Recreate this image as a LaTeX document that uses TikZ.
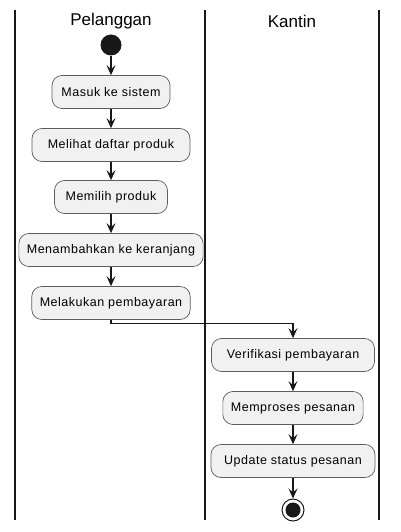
\documentclass[tikz,border=0pt]{standalone}
\usepackage{fontspec}
\setmainfont{Liberation Sans}
\newfontfamily\actfont[LetterSpace=4]{Liberation Sans}
\usepackage{tikz}
\usetikzlibrary{arrows.meta}
\definecolor{boxfill}{HTML}{F1F1F1}
\definecolor{boxline}{HTML}{181818}
\tikzset{
	act/.style={draw=boxline!70, fill=boxfill, rounded corners=10pt, minimum height=33pt, inner xsep=8pt, font=\actfont\fontsize{12.5}{14}\selectfont, line width=0.7pt},
	lane/.style={line width=1.6pt, boxline},
	flow/.style={-{Stealth[length=10pt,width=9pt,inset=4pt]}, line width=1.1pt, boxline}
}

\begin{document}
\begin{tikzpicture}[x=1pt,y=-1pt]
	\useasboundingbox (0,0) rectangle (400,532);
	%%%lanes
	\draw[lane] (15,10) -- (15,520);
	\draw[lane] (205,10) -- (205,520);
	\draw[lane] (379,10) -- (379,520);
	\node at (111,21) (Tpel){\fontsize{17}{19}\selectfont Pelanggan};
	\node at (292,21) (Tkan){\fontsize{17}{19}\selectfont Kantin};
	%%%nodes
	%Pelanggan
	\node[circle, fill=boxline, minimum size=21pt, inner sep=0pt] at (111,45) (start){};
	\node[act, minimum width=118pt] at (111,92) (masuk){Masuk ke sistem};
	\node[act, minimum width=158pt] at (111,145) (lihat){Melihat daftar produk};
	\node[act, minimum width=113pt] at (111,197) (pilih){Memilih produk};
	\node[act, minimum width=181pt] at (111,250) (tambah){Menambahkan ke keranjang};
	\node[act, minimum width=156pt] at (111,303) (bayar){Melakukan pembayaran};
	%Kantin
	\node[act, minimum width=163pt] at (293,355) (verif){Verifikasi pembayaran};
	\node[act, minimum width=138pt] at (293,408) (proses){Memproses pesanan};
	\node[act, minimum width=164pt] at (293,461) (update){Update status pesanan};
	\node[circle, draw=boxline, line width=1pt, minimum size=22pt, inner sep=0pt] at (293,510) (stop){};
	\node[circle, fill=boxline, minimum size=15pt, inner sep=0pt] at (stop) (stopin){};
	%%%links
	\draw[flow] (start) -- (masuk);
	\draw[flow] (masuk) -- (lihat);
	\draw[flow] (lihat) -- (pilih);
	\draw[flow] (pilih) -- (tambah);
	\draw[flow] (tambah) -- (bayar);
	%lane change
	\draw[flow] (bayar.south) -- ++(0,4) -| (verif.north);
	\draw[flow] (verif) -- (proses);
	\draw[flow] (proses) -- (update);
	\draw[flow] (update) -- (stop);
\end{tikzpicture}
\end{document}
